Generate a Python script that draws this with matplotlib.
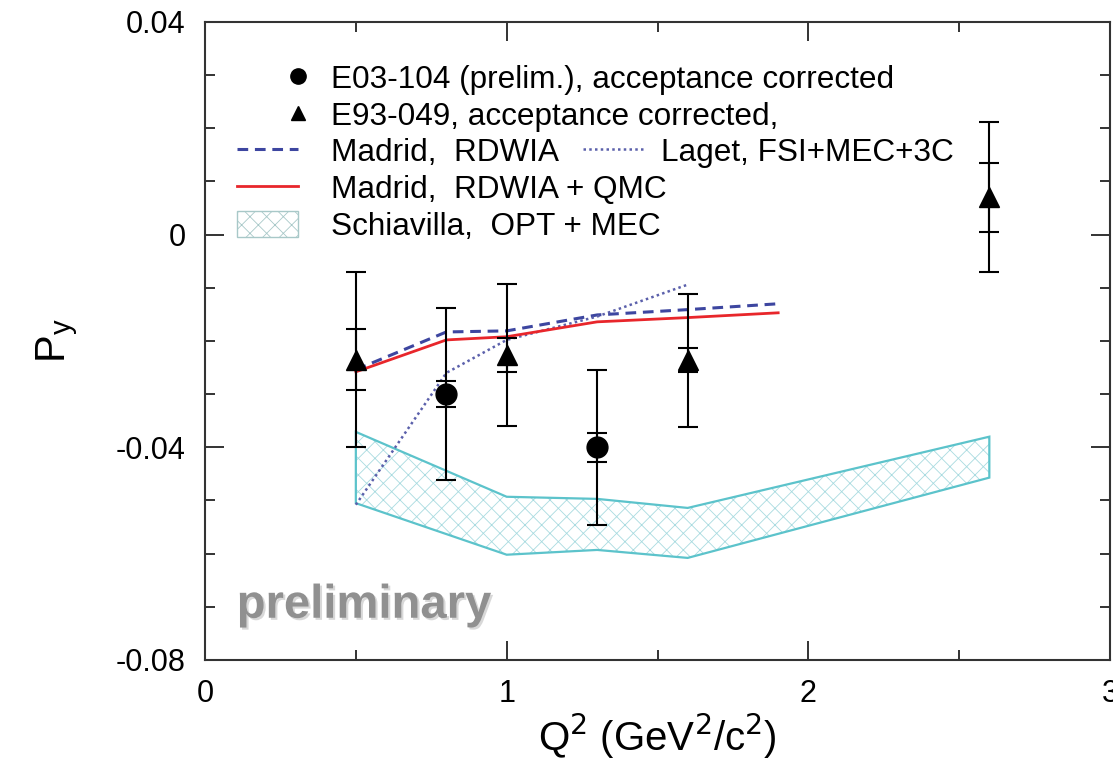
import numpy as np
import matplotlib
matplotlib.use("Agg")
import matplotlib.pyplot as plt
import matplotlib.patheffects as pe
from matplotlib.patches import Patch
from matplotlib.legend_handler import HandlerLine2D

plt.rcParams['font.family'] = ['Liberation Sans', 'DejaVu Sans']
plt.rcParams['hatch.linewidth'] = 0.6

# E03-104 (prelim.)
q2_e03 = [0.8, 1.3]
py_e03 = [-0.030, -0.040]
stat_e03 = [0.0025, 0.0027]
tot_e03 = [0.0162, 0.0146]

# E93-049
q2_e93 = [0.5, 1.0, 1.6, 2.6]
py_e93 = [-0.0235, -0.0226, -0.0236, 0.0070]
stat_e93 = [0.0058, 0.0032, 0.0023, 0.0065]
tot_e93 = [0.0164, 0.0133, 0.0125, 0.0141]

# Madrid calculations
q2_madrid = [0.5, 0.8, 1.0, 1.3, 1.6, 1.9]
py_rdwia = [-0.0254, -0.0183, -0.0181, -0.0151, -0.0141, -0.0130]
py_qmc = [-0.0258, -0.0198, -0.0192, -0.0164, -0.0156, -0.0147]

# Laget
q2_laget = [0.5, 0.8, 1.0, 1.3, 1.6]
py_laget = [-0.0508, -0.0260, -0.0198, -0.0154, -0.0094]

# Schiavilla band
q2_schiav = [0.5, 1.0, 1.3, 1.6, 2.6]
py_schiav_hi = [-0.0371, -0.0493, -0.0497, -0.0514, -0.0380]
py_schiav_lo = [-0.0505, -0.0602, -0.0593, -0.0608, -0.0457]


class MarkerAtEnd(HandlerLine2D):
    # put the single legend marker at the right end of the handle
    def get_xdata(self, legend, xdescent, ydescent, width, height, fontsize):
        r = -xdescent + width
        return np.array([r, r]), np.array([r])


fig = plt.figure(figsize=(11.13, 7.66), dpi=100)
ax = fig.add_axes([0.1842, 0.1384, 0.8131, 0.8329])

band_x = np.concatenate([q2_schiav, q2_schiav[::-1]])
band_y = np.concatenate([py_schiav_hi, py_schiav_lo[::-1]])
ax.fill(band_x, band_y, facecolor='none', edgecolor='#a9dbe0',
        hatch='xx', linewidth=0, zorder=1)
ax.fill(band_x, band_y, facecolor='none', edgecolor='#5cc3cb',
        linewidth=1.6, zorder=2)

l_rdwia, = ax.plot(q2_madrid, py_rdwia, ls=(0, (3.5, 2.2)), color='#3d46a0', lw=2.2, zorder=3)
l_laget, = ax.plot(q2_laget, py_laget, ls=(0, (1, 1.3)), color='#5b60ab', lw=1.8, zorder=3)
l_qmc, = ax.plot(q2_madrid, py_qmc, color='#e8262b', lw=2.0, zorder=4)

for x, y, st, tot, mk in [(q2_e03, py_e03, stat_e03, tot_e03, 'o'),
                          (q2_e93, py_e93, stat_e93, tot_e93, '^')]:
    ax.errorbar(x, y, yerr=tot, fmt='none', ecolor='black', elinewidth=1.5,
                capsize=7, capthick=1.5, zorder=5)
    ax.errorbar(x, y, yerr=st, fmt='none', ecolor='black', elinewidth=1.5,
                capsize=7, capthick=1.5, zorder=5)
    ax.plot(x, y, mk, color='black', ms=15, zorder=6)

ax.set_xlim(0, 3)
ax.set_ylim(-0.08, 0.04)
ax.set_xticks([0, 1, 2, 3])
ax.set_xticklabels(['0', '1', '2', '3'])
ax.set_xticks([0.5, 1.5, 2.5], minor=True)
ax.set_yticks([-0.08, -0.04, 0, 0.04])
ax.set_yticklabels(['-0.08', '-0.04', '0', '0.04'])
ax.set_yticks(np.arange(-0.08, 0.041, 0.01), minor=True)
ax.tick_params(which='both', direction='in', top=True, right=True,
               labelsize=22, pad=14, width=1.4, color='#333333')
ax.tick_params(which='major', length=14)
ax.tick_params(which='minor', length=7)
for s in ax.spines.values():
    s.set_linewidth(1.5)
    s.set_color('#333333')

ax.set_xlabel(r'Q$^{2}$ (GeV$^{2}$/c$^{2}$)', fontsize=29, labelpad=2)
ax.set_ylabel(r'P$_{\mathregular{y}}$', fontsize=30, labelpad=26)

ax.text(0.035, 0.085, 'preliminary', transform=ax.transAxes, fontsize=34,
        fontweight='bold', color='#909090', va='center', ha='left',
        path_effects=[pe.withSimplePatchShadow(offset=(1.5, -1.5),
                                               shadow_rgbFace='#c8c8c8', alpha=0.7)])

# legend handles
h_e03, = ax.plot([], [], 'o', color='black', ms=11)
h_e93, = ax.plot([], [], '^', color='black', ms=10)
h_band = Patch(facecolor='white', edgecolor='#a8c8c8', hatch='xx', linewidth=1.0)
leg = ax.legend([h_e03, h_e93, l_rdwia, l_qmc, h_band],
                ['E03-104 (prelim.), acceptance corrected',
                 'E93-049, acceptance corrected,',
                 'Madrid,  RDWIA',
                 'Madrid,  RDWIA + QMC',
                 'Schiavilla,  OPT + MEC'],
                loc='upper left', bbox_to_anchor=(0.0354, 0.934), frameon=False,
                fontsize=22.7, handlelength=1.92, handleheight=0.9,
                handletextpad=1.06, labelspacing=0.18, borderpad=0,
                borderaxespad=0, numpoints=1,
                handler_map={h_e03: MarkerAtEnd(), h_e93: MarkerAtEnd()})
ax.add_artist(leg)
ax.legend([l_laget], ['Laget, FSI+MEC+3C'], loc='upper left',
          bbox_to_anchor=(0.418, 0.819), frameon=False, fontsize=22.7,
          handlelength=1.92, handleheight=0.9, handletextpad=0.55,
          borderpad=0, borderaxespad=0)

fig.savefig('out.png', dpi=100)
